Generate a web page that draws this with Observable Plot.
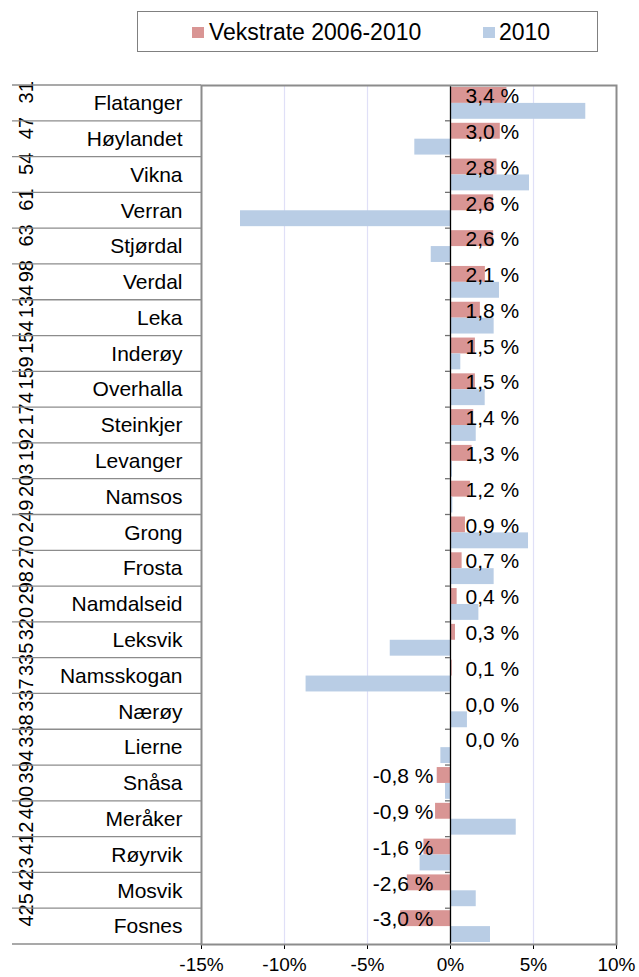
<!DOCTYPE html>
<html>
<head>
<meta charset="utf-8">
<script src="https://cdn.jsdelivr.net/npm/d3@7"></script>
<script src="https://cdn.jsdelivr.net/npm/@observablehq/plot@0.6"></script>
<style>
  body { margin: 0; background: #fff; font-family: "Liberation Sans", Arial, sans-serif; }
  #legend { position: relative; width: 639px; height: 64px; }
  #legend .box { position: absolute; left: 137px; top: 11px; width: 459px; height: 39px; border: 1px solid #808080; box-sizing: content-box; }
  #legend .sw { position: absolute; width: 12px; height: 11px; }
  #legend .lab { position: absolute; font-size: 23px; line-height: 23px; color: #000; white-space: nowrap; }
  #chart svg { display: block; }
</style>
</head>
<body>
<div id="legend"></div>
<div id="chart"></div>
<script>
const names = ["Flatanger","Høylandet","Vikna","Verran","Stjørdal","Verdal","Leka","Inderøy","Overhalla","Steinkjer","Levanger","Namsos","Grong","Frosta","Namdalseid","Leksvik","Namsskogan","Nærøy","Lierne","Snåsa","Meråker","Røyrvik","Mosvik","Fosnes"];
const ranks = [31,47,54,61,63,98,134,154,159,174,192,203,249,270,298,320,335,337,338,394,400,412,423,425];
const growth = [3.4,3.0,2.8,2.6,2.6,2.1,1.8,1.5,1.5,1.4,1.3,1.2,0.9,0.7,0.4,0.3,0.1,0.0,0.0,-0.8,-0.9,-1.6,-2.6,-3.0];
const y2010 = [8.15,-2.15,4.76,-12.65,-1.16,2.95,2.63,0.62,2.09,1.55,0.12,0.14,4.7,2.63,1.71,-3.63,-8.7,1.02,-0.58,-0.3,3.96,-1.83,1.55,2.41];
const seriesNames = ["Vekstrate 2006-2010", "2010"];
const seriesColors = ["#d99594", "#b9cde5"];
const xTicks = [-15,-10,-5,0,5,10];

const rows = names.map((n, i) => ({name: n, rank: ranks[i], growth: growth[i], y2010: y2010[i]}));
const fmt = v => v.toFixed(1).replace(".", ",") + " %";

// Legend (HTML, above the SVG)
const lg = document.getElementById("legend");
lg.innerHTML = `<div class="box"></div>
<div class="sw" style="left:192px;top:27px;background:${seriesColors[0]}"></div>
<div class="lab" style="left:209px;top:21px">${seriesNames[0]}</div>
<div class="sw" style="left:483px;top:27px;background:${seriesColors[1]}"></div>
<div class="lab" style="left:499px;top:21px">${seriesNames[1]}</div>`;

const W = 639, H = 913, mt = 21, mb = 33, ml = 201, mr = 23;
const bw = (H - mt - mb) / names.length;

const plot = Plot.plot({
  width: W, height: H,
  marginTop: mt, marginBottom: mb, marginLeft: ml, marginRight: mr,
  style: {fontFamily: "'Liberation Sans', Arial, sans-serif", fontSize: "19px", color: "#000", background: "#fff"},
  x: {domain: [-15, 10], ticks: xTicks, tickFormat: d => d + "%", tickSize: 5, tickPadding: 8, line: true, label: null},
  y: {domain: names, padding: 0, round: false, axis: null},
  marks: [
    Plot.ruleX(xTicks.filter(d => d !== 0 && d !== -15 && d !== 10), {stroke: "#e0e0f7", strokeWidth: 1.2}),
    Plot.barX(rows, {y: "name", x: "growth", fill: seriesColors[0], insetTop: 2, insetBottom: bw / 2}),
    Plot.barX(rows, {y: "name", x: "y2010", fill: seriesColors[1], insetTop: bw / 2, insetBottom: 2}),
    Plot.ruleX([0], {stroke: "#000", strokeWidth: 1.3}),
    Plot.frame({stroke: "#8c8c8c", strokeWidth: 2}),
    Plot.text(rows.filter(d => d.growth >= 0), {y: "name", x: d => 0, text: d => fmt(d.growth), textAnchor: "start", dx: 15, dy: -7, fontSize: 21}),
    Plot.text(rows.filter(d => d.growth < 0), {y: "name", x: d => 0, text: d => fmt(d.growth), textAnchor: "end", dx: -17, dy: -7, fontSize: 21}),
    Plot.text(rows, {y: "name", frameAnchor: "left", text: "name", textAnchor: "end", dx: -19, fontSize: 21}),
    Plot.text(rows, {y: "name", frameAnchor: "left", text: d => String(d.rank), rotate: -90, dx: -175, fontSize: 20})
  ]
});

document.getElementById("chart").appendChild(plot);

// Category separators and tick marks, placed from Plot's own scales
const ys = plot.scale("y"), xs = plot.scale("x");
const x0 = xs.apply(0);
const svg = d3.select(plot);
const g = svg.append("g").attr("stroke", "#8c8c8c").attr("stroke-width", 1.3);
const bounds = names.map(n => ys.apply(n)).concat([ys.apply(names[names.length - 1]) + ys.bandwidth]);
bounds.forEach((yb, i) => {
  g.append("line").attr("x1", 12).attr("x2", ml).attr("y1", yb).attr("y2", yb);
  if (i > 0 && i < bounds.length - 1) {
    g.append("line").attr("x1", x0 - 5).attr("x2", x0).attr("y1", yb).attr("y2", yb).attr("stroke", "#707070");
  }
});
</script>
</body>
</html>
